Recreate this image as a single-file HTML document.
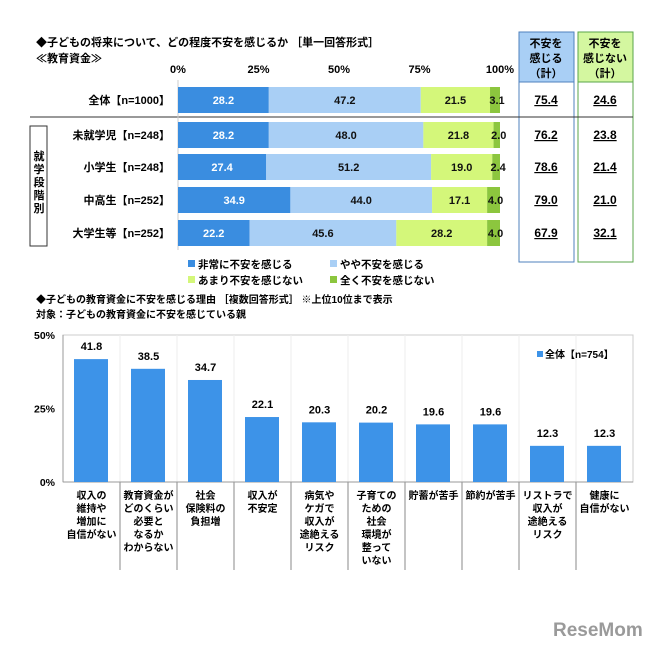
<!DOCTYPE html>
<html><head><meta charset="utf-8"><style>
body{margin:0;background:#fff;}
svg text{font-family:"Liberation Sans","Noto Sans CJK JP",sans-serif;font-weight:bold;}
</style></head><body>
<svg width="664" height="654" viewBox="0 0 664 654" xmlns="http://www.w3.org/2000/svg" id="svg">
<text x="36" y="46" font-size="11">◆子どもの将来について、どの程度不安を感じるか ［単一回答形式］</text>
<text x="36" y="62" font-size="11">≪教育資金≫</text>
<rect x="519" y="32" width="55" height="50" fill="#a9cff5" stroke="#4f81bd"/>
<rect x="519" y="82" width="55" height="180" fill="none" stroke="#4f81bd"/>
<rect x="578" y="32" width="55" height="50" fill="#d4f7a0" stroke="#5aa64a"/>
<rect x="578" y="82" width="55" height="180" fill="none" stroke="#5aa64a"/>
<g font-size="11" text-anchor="middle">
<text x="546" y="47">不安を</text><text x="546" y="62">感じる</text><text x="546" y="77">（計）</text>
<text x="605" y="47">不安を</text><text x="605" y="62">感じない</text><text x="605" y="77">（計）</text>
</g>
<line x1="30" y1="117" x2="633" y2="117" stroke="#333"/>
<rect x="30" y="126" width="17" height="120" fill="none" stroke="#333"/>
<g font-size="11" text-anchor="middle">
<text x="39" y="160">就</text><text x="39" y="173">学</text><text x="39" y="186">段</text><text x="39" y="199">階</text><text x="39" y="212">別</text>
</g>
<g id="topchart"></g>
<g id="bottomchart"></g>
<text x="36" y="303" font-size="10">◆子どもの教育資金に不安を感じる理由 ［複数回答形式］ ※上位10位まで表示</text>
<text x="36" y="318" font-size="10">対象：子どもの教育資金に不安を感じている親</text>
<text x="553" y="636" font-size="19" fill="#9a9a9a" style="font-weight:bold">ReseMom</text>
</svg>
<script>
const rows=["全体【n=1000】","未就学児【n=248】","小学生【n=248】","中高生【n=252】","大学生等【n=252】"];
const veryAnx=[28.2,28.2,27.4,34.9,22.2];
const someAnx=[47.2,48.0,51.2,44.0,45.6];
const littleAnx=[21.5,21.8,19.0,17.1,28.2];
const noAnx=[3.1,2.0,2.4,4.0,4.0];
const totalAnx=["75.4","76.2","78.6","79.0","67.9"];
const totalNot=["24.6","23.8","21.4","21.0","32.1"];
const xTicks=["0%","25%","50%","75%","100%"];
const seriesNames=["非常に不安を感じる","やや不安を感じる","あまり不安を感じない","全く不安を感じない"];
const reasons=["収入の|維持や|増加に|自信がない","教育資金が|どのくらい|必要と|なるか|わからない","社会|保険料の|負担増","収入が|不安定","病気や|ケガで|収入が|途絶える|リスク","子育ての|ための|社会|環境が|整って|いない","貯蓄が苦手","節約が苦手","リストラで|収入が|途絶える|リスク","健康に|自信がない"];
const reasonVals=[41.8,38.5,34.7,22.1,20.3,20.2,19.6,19.6,12.3,12.3];
const yTicks=[0,25,50];
const NS="http://www.w3.org/2000/svg";
function mk(t,a,p,txt){const e=document.createElementNS(NS,t);for(const k in a)e.setAttribute(k,a[k]);if(txt!==undefined)e.textContent=txt;p.appendChild(e);return e;}
const gTop=document.getElementById('topchart');
const X0=178,X1=500;const xs=v=>X0+(X1-X0)*v/100;
const rowY=[87,122,154,187,220];const BH=26;
const colors=["#3a8de0","#a9cff5","#d4f77a","#8cc63e"];
const tcol=["#fff","#111","#111","#111"];
xTicks.forEach((t,i)=>{const e=mk('text',{x:xs(i*25),y:73,'font-size':11,'text-anchor':'middle'},gTop,t);

});
mk('line',{x1:X0,y1:80,x2:X0,y2:250,stroke:'#ccc'},gTop);
rows.forEach((r,i)=>{
 const y=rowY[i];
 const lb=mk('text',{x:170,y:y+BH/2+4,'font-size':11,'text-anchor':'end'},gTop,r);
 
 
 let acc=0;[veryAnx,someAnx,littleAnx,noAnx].forEach((s,j)=>{
  const v=s[i];const rc=mk('rect',{x:xs(acc),y:y,width:xs(acc+v)-xs(acc),height:BH,fill:colors[j]},gTop);
  
  
  const cx=j==3?xs(acc+v/2)+2:xs(acc+v/2);
  const tx=mk('text',{x:cx,y:y+BH/2+4,'font-size':11,'text-anchor':'middle',fill:tcol[j],'font-weight':'normal'},gTop,v.toFixed(1));
  
  
  acc+=v;});
 [[546,totalAnx[i]],[605,totalNot[i]]].forEach(([cx,t])=>{
  const e=mk('text',{x:cx,y:y+BH/2+4,'font-size':12,'text-anchor':'middle','text-decoration':'underline'},gTop,t);
  
  });
});
const lp=[[188,268],[330,268],[188,284],[330,284]];
seriesNames.forEach((n,j)=>{const g=mk('g',{},gTop);
 
 
 mk('rect',{x:lp[j][0],y:lp[j][1]-8,width:7,height:7,fill:colors[j]},g);
 mk('text',{x:lp[j][0]+10,y:lp[j][1],'font-size':10.5},g,n);});
const gBot=document.getElementById('bottomchart');
const PX=63,PW=57,Y0=482,Y50=335;const ys=v=>Y0-(Y0-Y50)*v/50;
mk('rect',{x:PX,y:Y50,width:PW*10,height:Y0-Y50,fill:'none',stroke:'#ccc'},gBot);
for(let i=1;i<10;i++){mk('line',{x1:PX+PW*i,y1:Y50,x2:PX+PW*i,y2:Y0,stroke:'#eee'},gBot);
 mk('line',{x1:PX+PW*i,y1:Y0,x2:PX+PW*i,y2:570,stroke:'#888'},gBot);}
mk('line',{x1:PX,y1:Y0,x2:PX+PW*10,y2:Y0,stroke:'#999'},gBot);
mk('line',{x1:PX,y1:Y50,x2:PX,y2:Y0,stroke:'#999'},gBot);
yTicks.forEach(t=>{const e=mk('text',{x:55,y:ys(t)+4,'font-size':10.5,'text-anchor':'end'},gBot,t+'%');
 
 });
reasons.forEach((r,i)=>{
 const x=PX+PW*i;const v=reasonVals[i];
 const b=mk('rect',{x:x+11,y:ys(v),width:34,height:Y0-ys(v),fill:'#3d93e8'},gBot);
 
 
 const t=mk('text',{x:x+PW/2,y:ys(v)-9,'font-size':11,'text-anchor':'middle','font-weight':'normal'},gBot,v.toFixed(1));
 
 
 r.split('|').forEach((ln,k)=>{const e=mk('text',{x:x+PW/2,y:499+k*13,'font-size':10,'text-anchor':'middle'},gBot,ln);
  
  });
});
const lg=mk('g',{},gBot);


mk('rect',{x:537,y:351,width:6,height:6,fill:'#3d93e8'},lg);
mk('text',{x:545,y:358,'font-size':10},lg,'全体【n=754】');
</script>
</body></html>
